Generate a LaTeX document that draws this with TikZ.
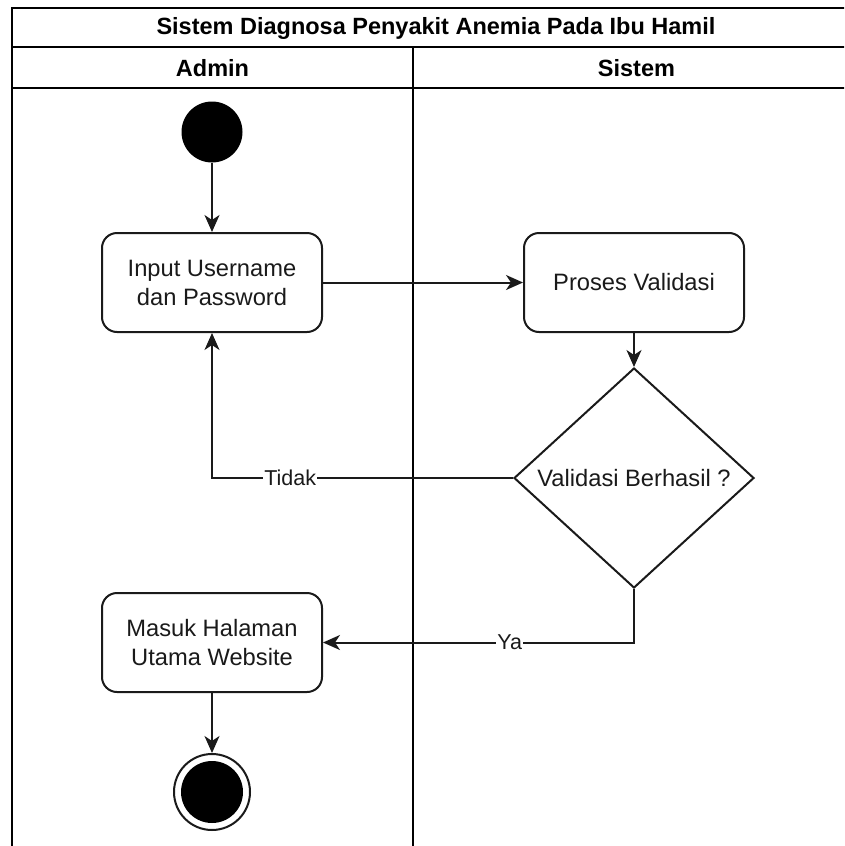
\documentclass[tikz,border=0pt]{standalone}
\usepackage{fontspec}
\setmainfont{Liberation Sans}
\usetikzlibrary{arrows.meta,shapes.geometric}
\definecolor{ink}{HTML}{1A1A1A}
\begin{document}
\begin{tikzpicture}[x=1pt,y=-1pt,
  lane/.style={line width=2pt},
  act/.style={draw=ink,line width=2pt,rounded corners=15pt,minimum width=220pt,
    minimum height=99pt,align=center,inner sep=0pt,text=ink,
    font=\fontsize{23.7}{29}\selectfont},
  dec/.style={draw=ink,diamond,line width=2pt,minimum width=240pt,
    minimum height=220pt,inner sep=0pt},
  txt/.style={text=ink,font=\fontsize{23.7}{29}\selectfont},
  head/.style={font=\fontsize{23.5}{28}\selectfont\bfseries},
  flow/.style={draw=ink,line width=2pt,-{Stealth[length=17pt,width=15pt,inset=5pt]}},
  lbl/.style={fill=white,inner sep=1pt,text=ink,font=\fontsize{21.5}{26}\selectfont}]
\fill[white] (0,0) rectangle (844,846);
\useasboundingbox (0,0) rectangle (844,846);
\begin{scope}
\clip (0,0) rectangle (844,846);
% swimlane frame
\draw[lane] (12,8) rectangle (870,870);
\draw[lane] (12,47) -- (870,47);
\draw[lane] (12,88) -- (870,88);
\draw[lane] (413,47) -- (413,870);
\end{scope}
\node[head] (title) at (436,28) {Sistem Diagnosa Penyakit Anemia Pada Ibu Hamil};
\node[head] (admin) at (212.5,68) {Admin};
\node[head] (sistem) at (636.5,68) {Sistem};

% activity nodes
\node[circle,fill=black,minimum size=61pt,inner sep=0pt] (start) at (212,132) {};
\node[act] (input) at (212,282.5) {Input Username\\dan Password};
\node[act] (proses) at (634,282.5) {Proses Validasi};
\node[dec] (cek) at (634,478) {};
\node[txt] (cektext) at (634,478) {Validasi Berhasil ?};
\node[act] (masuk) at (212,642.5) {Masuk Halaman\\Utama Website};
\node[circle,draw=ink,line width=2pt,minimum size=76pt,inner sep=0pt] (end) at (212,792) {};
\node[circle,fill=black,minimum size=62pt,inner sep=0pt] (endcore) at (end) {};

% connectors
\draw[flow] (start) -- (input);
\draw[flow] (input) -- (proses);
\draw[flow] (proses) -- (cek);
\draw[flow] (cek.west) -| node[lbl,pos=0.37] (tidak) {Tidak} (input.south);
\draw[flow] (cek.south) |- node[lbl,pos=0.70] (ya) {Ya} (masuk.east);
\draw[flow] (masuk) -- (end);
\end{tikzpicture}
\end{document}
